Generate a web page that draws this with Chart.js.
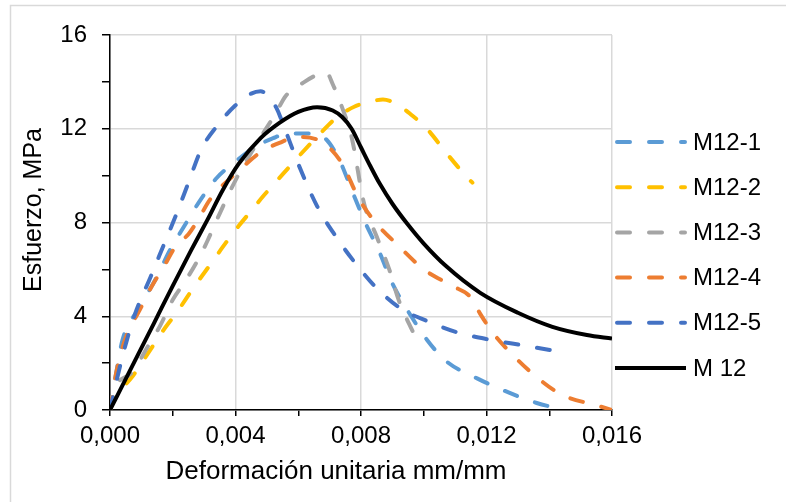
<!DOCTYPE html>
<html>
<head>
<meta charset="utf-8">
<script src="https://cdn.jsdelivr.net/npm/chart.js@4.4.1/dist/chart.umd.min.js"></script>
<style>
  html, body { margin: 0; padding: 0; background: #fff; }
  #wrap { width: 786px; height: 502px; }
</style>
</head>
<body>
<div id="wrap"><canvas id="chart" width="786" height="502"></canvas></div>
<script>
// series labels and colours
const seriesNames = ['M12-1', 'M12-2', 'M12-3', 'M12-4', 'M12-5', 'M 12'];
const seriesColors = ['#5B9BD5', '#FFC000', '#A5A5A5', '#ED7D31', '#4472C4', '#000000'];

// strain (mm/mm) and stress (MPa)
const strain1 = [0, 0.0002, 0.0004, 0.0009, 0.0015, 0.0019, 0.0023, 0.0029, 0.0034, 0.0040, 0.0046, 0.0052, 0.0057, 0.0063, 0.0068, 0.0073, 0.0077, 0.0081, 0.0086, 0.0090, 0.0096, 0.0101, 0.0107, 0.0117, 0.0127, 0.0136, 0.0145];
const stress1 = [0, 1.6, 3.0, 4.3, 5.7, 6.8, 7.7, 9.0, 9.9, 10.6, 11.2, 11.6, 11.8, 11.8, 11.65, 10.7, 9.4, 8.1, 6.7, 5.4, 4.0, 3.0, 2.1, 1.35, 0.75, 0.3, 0];

const strain2 = [0, 0.0001, 0.0007, 0.0013, 0.0017, 0.0022, 0.0026, 0.0033, 0.0037, 0.0041, 0.0045, 0.0049, 0.0055, 0.0060, 0.0067, 0.0072, 0.0078, 0.0083, 0.0087, 0.0092, 0.0096, 0.0101, 0.0107, 0.0114, 0.01155];
const stress2 = [0, 0.4, 1.4, 2.6, 3.4, 4.3, 5.1, 6.4, 7.15, 7.85, 8.5, 9.15, 10.05, 10.8, 11.8, 12.45, 12.95, 13.15, 13.25, 13.0, 12.6, 12.0, 11.0, 9.9, 9.7];

const strain3 = [0, 0.0001, 0.0007, 0.0012, 0.0016, 0.0020, 0.0024, 0.0028, 0.0031, 0.0034, 0.0040, 0.0046, 0.0053, 0.0056, 0.0062, 0.0066, 0.0069, 0.0071, 0.0074, 0.0077, 0.0081, 0.0085, 0.0089, 0.0092, 0.0097];
const stress3 = [0, 0.75, 1.6, 2.7, 3.6, 4.7, 5.5, 6.4, 7.2, 8.1, 9.8, 11.2, 12.7, 13.4, 14.0, 14.3, 14.4, 13.9, 12.9, 11.65, 8.8, 7.4, 6.0, 4.7, 3.2];

const strain4 = [0, 0.0002, 0.00048, 0.00096, 0.0013, 0.00175, 0.0021, 0.0025, 0.0028, 0.0032, 0.0041, 0.0048, 0.0054, 0.0060, 0.0068, 0.0074, 0.0079, 0.0084, 0.0092, 0.0100, 0.0109, 0.0115, 0.0118, 0.0122, 0.0128, 0.0136, 0.0144, 0.0155, 0.0160];
const stress4 = [0, 1.6, 3.0, 4.3, 5.2, 6.2, 7.0, 7.5, 8.1, 9.0, 10.2, 11.0, 11.4, 11.65, 11.4, 10.5, 9.1, 8.1, 7.0, 6.0, 5.3, 4.8, 4.1, 3.3, 2.4, 1.4, 0.65, 0.2, 0];

const strain5 = [0, 0.0002, 0.0005, 0.0008, 0.0013, 0.0017, 0.0021, 0.0025, 0.0029, 0.0034, 0.0040, 0.0045, 0.0048, 0.0050, 0.0053, 0.0056, 0.0060, 0.0066, 0.0072, 0.0078, 0.0085, 0.0093, 0.0101, 0.0111, 0.0121, 0.0132, 0.0145];
const stress5 = [0, 1.2, 2.8, 4.1, 5.7, 7.0, 8.3, 9.7, 11.1, 12.1, 13.0, 13.5, 13.6, 13.45, 12.9, 11.9, 10.5, 8.7, 7.4, 6.3, 5.2, 4.3, 3.8, 3.3, 3.0, 2.75, 2.45];

const strainAvg = [0, 0.0007, 0.0014, 0.0020, 0.0026, 0.0031, 0.0036, 0.0041, 0.0048, 0.0054, 0.0060, 0.0066, 0.0071, 0.0074, 0.0077, 0.0080, 0.0083, 0.0086, 0.0090, 0.0095, 0.0100, 0.0107, 0.0118, 0.0130, 0.0141, 0.0152, 0.0160];
const stressAvg = [0, 1.85, 3.7, 5.3, 6.85, 8.1, 9.4, 10.5, 11.6, 12.25, 12.72, 12.92, 12.78, 12.5, 12.0, 11.2, 10.4, 9.65, 8.8, 7.9, 7.1, 6.15, 5.0, 4.15, 3.55, 3.2, 3.05];

// axis settings
const xMin = 0, xMax = 0.016, xStep = 0.002;
const yMin = 0, yMax = 16, yStep = 2;
const xTitle = 'Deformación unitaria mm/mm';
const yTitle = 'Esfuerzo, MPa';

const strains = [strain1, strain2, strain3, strain4, strain5, strainAvg];
const stresses = [stress1, stress2, stress3, stress4, stress5, stressAvg];

const FONT = '"Liberation Sans", Arial, sans-serif';
const DASH = [13, 19];

const datasets = seriesNames.map((name, i) => ({
  label: name,
  data: strains[i].map((x, j) => ({ x: x, y: stresses[i][j] })),
  borderColor: seriesColors[i],
  backgroundColor: seriesColors[i],
  borderWidth: 4,
  borderDash: i < 5 ? DASH : [],
  borderCapStyle: i < 5 ? 'round' : 'butt',
  borderJoinStyle: 'round',
  showLine: true,
  pointRadius: 0,
  cubicInterpolationMode: 'monotone',
  order: 5 - i
}));

// titles, legend and frame drawn on the same canvas
const extras = {
  id: 'extras',
  afterDraw(chart) {
    const ctx = chart.ctx;
    ctx.save();
    // frame of the picture (only top and left edges visible)
    ctx.strokeStyle = '#D9D9D9';
    ctx.lineWidth = 1.5;
    ctx.beginPath();
    ctx.moveTo(10.5, 502);
    ctx.lineTo(10.5, 5.5);
    ctx.lineTo(786, 5.5);
    ctx.stroke();

    ctx.fillStyle = '#000';
    ctx.textAlign = 'center';
    ctx.textBaseline = 'middle';
    ctx.font = '26px ' + FONT;
    ctx.fillText(xTitle, 336, 472);

    ctx.save();
    ctx.font = '25px ' + FONT;
    ctx.translate(34, 210);
    ctx.rotate(-Math.PI / 2);
    ctx.fillText(yTitle, 0, 0);
    ctx.restore();

    // legend
    ctx.font = '24px ' + FONT;
    ctx.textAlign = 'left';
    chart.data.datasets.forEach((ds, i) => {
      const y = 142 + i * 45.2;
      ctx.strokeStyle = ds.borderColor;
      ctx.lineWidth = 4;
      ctx.lineCap = ds.borderDash.length ? 'round' : 'butt';
      ctx.setLineDash(ds.borderDash);
      ctx.beginPath();
      if (ds.borderDash.length) {
        ctx.moveTo(617, y);
        ctx.lineTo(685, y);
      } else {
        ctx.moveTo(615, y);
        ctx.lineTo(686, y);
      }
      ctx.stroke();
      ctx.setLineDash([]);
      ctx.fillStyle = '#000';
      ctx.fillText(ds.label, 693, y + 1);
    });
    ctx.restore();
  }
};

const isMajor = (v, step) => Math.round(v / step) % 2 === 0;

new Chart(document.getElementById('chart'), {
  type: 'scatter',
  data: { datasets },
  options: {
    responsive: false,
    animation: false,
    layout: { padding: { left: 0, top: 35, right: 174, bottom: 0 } },
    plugins: { legend: { display: false }, tooltip: { enabled: false } },
    scales: {
      x: {
        type: 'linear',
        min: xMin,
        max: xMax,
        afterFit(scale) { scale.height = 92; },
        ticks: {
          stepSize: xStep,
          autoSkip: false,
          maxRotation: 0,
          padding: 6,
          color: '#000',
          font: { size: 24, family: FONT },
          callback: (v) => isMajor(v, xStep) ? v.toFixed(3).replace('.', ',') : ''
        },
        grid: {
          color: (c) => c.tick && isMajor(c.tick.value, xStep) ? '#D9D9D9' : 'rgba(0,0,0,0)',
          lineWidth: 1.5,
          tickColor: '#000',
          tickLength: 6
        },
        border: { color: '#000', width: 1.5 }
      },
      y: {
        type: 'linear',
        min: yMin,
        max: yMax,
        afterFit(scale) { scale.width = 110; },
        ticks: {
          stepSize: yStep,
          autoSkip: false,
          padding: 15,
          color: '#000',
          font: { size: 24, family: FONT },
          callback: (v) => isMajor(v, yStep) ? String(v) : ''
        },
        grid: {
          color: (c) => c.tick && isMajor(c.tick.value, yStep) ? '#D9D9D9' : 'rgba(0,0,0,0)',
          lineWidth: 1.5,
          tickColor: '#000',
          tickLength: 8
        },
        border: { color: '#000', width: 1.5 }
      }
    }
  },
  plugins: [extras]
});
</script>
</body>
</html>
